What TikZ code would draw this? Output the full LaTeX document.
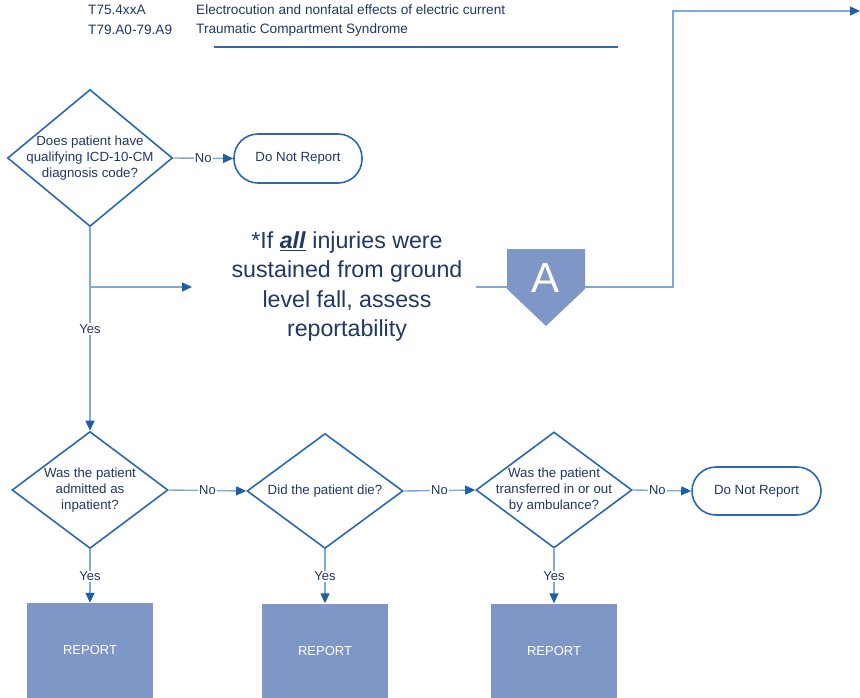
\documentclass[tikz,border=0pt]{standalone}
\usepackage{fontspec}
\setmainfont{Liberation Sans}
\usetikzlibrary{arrows.meta,shapes.geometric,calc}
\definecolor{navy}{HTML}{1F3864}
\definecolor{edgeblue}{HTML}{2A68B0}
\definecolor{connblue}{HTML}{7FA9D7}
\definecolor{tipblue}{HTML}{1F5FA8}
\definecolor{boxfill}{HTML}{7F97C6}
\begin{document}
\begin{tikzpicture}[x=1pt,y=-1pt,
  dia/.style={diamond, draw=edgeblue, line width=1.6pt, inner sep=0pt},
  dtext/.style={align=center, text=navy, font=\fontsize{13.3}{16}\selectfont, inner sep=0pt},
  term/.style={draw=edgeblue, line width=1.6pt, rounded corners=24pt, text=navy,
    font=\fontsize{13.3}{16}\selectfont},
  reportbox/.style={fill=boxfill, minimum width=126pt, minimum height=95pt, text=white,
    font=\fontsize{13}{16}\selectfont},
  conn/.style={draw=connblue, line width=1.4pt, -{Triangle[length=10pt,width=9pt,color=tipblue]}},
  plainconn/.style={draw=connblue, line width=1.4pt},
  lab/.style={fill=white, text=navy, inner sep=1pt, font=\fontsize{13}{15}\selectfont},
  toptext/.style={anchor=west, text=navy, inner sep=0pt, font=\fontsize{13.6}{15}\selectfont}
]
\useasboundingbox (0,0) rectangle (860,698);

% top text
\node[toptext] (c1) at (88,10) {T75.4xxA};
\node[toptext] (t1) at (196,10) {Electrocution and nonfatal effects of electric current};
\node[toptext] (c2) at (88,30) {T79.A0-79.A9};
\node[toptext] (t2) at (196,30) {Traumatic Compartment Syndrome};
\coordinate (rl) at (214,47);
\coordinate (rr) at (618,47);
\draw[draw=edgeblue, line width=1.6pt] (rl) -- (rr);

% first decision
\node[dia, minimum width=165pt, minimum height=137pt] (d1) at (90,158) {};
\node[dtext] at (d1) {Does patient have\\qualifying ICD-10-CM\\diagnosis code?};
\node[term, minimum width=128pt, minimum height=49pt] (n1) at (298,158.5) {Do Not Report};
\draw[conn] (d1.east) -- node[lab] {No} (n1.west);

% second row decisions
\node[dia, minimum width=156pt, minimum height=117pt] (d2) at (90,490) {};
\node[dtext] at (d2) {Was the patient\\admitted as\\inpatient?};
\node[dia, minimum width=156pt, minimum height=115pt] (d3) at (325,491) {};
\node[dtext] at (d3) {Did the patient die?};
\node[dia, minimum width=156pt, minimum height=116pt] (d4) at (554,490) {};
\node[dtext] at (d4) {Was the patient\\transferred in or out\\by ambulance?};
\node[term, minimum width=129pt, minimum height=48pt] (n2) at (756.5,491) {Do Not Report};

% vertical yes from d1
\coordinate (br) at (90,287);
\coordinate (brend) at (192,287);
\draw[conn] (d1.south) -- (d2.north);
\node[lab] at (90,329) {Yes};
\draw[conn] (br) -- (brend);

% note text
\node[align=center, text=navy, font=\fontsize{23.2}{29.6}\selectfont, inner sep=0pt] (note) at (347,286.5)
  {*If \underline{\textbf{\textit{all}}} injuries were\\sustained from ground\\level fall, assess\\reportability};

% A connector
\coordinate (aw) at (507,287);
\coordinate (ae) at (585,287);
\fill[boxfill] (507,249) -- (585,249) -- (585,289) -- (546,326) -- (507,289) -- cycle;
\node[text=white, font=\fontsize{42}{42}\selectfont, inner sep=0pt] (A) at (546,278) {A};
\coordinate (lin) at (476,287);
\draw[plainconn] (lin) -- (aw);
\coordinate (up) at (673,11);
\coordinate (exit) at (860,11);
\draw[conn] (ae) -| (up) -- (exit);

% no connectors second row
\draw[conn] (d2.east) -- node[lab] {No} (d3.west);
\draw[conn] (d3.east) -- node[lab] {No} (d4.west);
\draw[conn] (d4.east) -- node[lab, pos=0.42] {No} (n2.west);

% report boxes
\node[reportbox] (r1) at (90,650.5) {REPORT};
\node[reportbox] (r2) at (325,651) {REPORT};
\node[reportbox] (r3) at (554,651) {REPORT};
\draw[conn] (d2.south) -- node[lab] {Yes} (r1.north);
\draw[conn] (d3.south) -- node[lab] {Yes} (r2.north);
\draw[conn] (d4.south) -- node[lab] {Yes} (r3.north);
\end{tikzpicture}
\end{document}
